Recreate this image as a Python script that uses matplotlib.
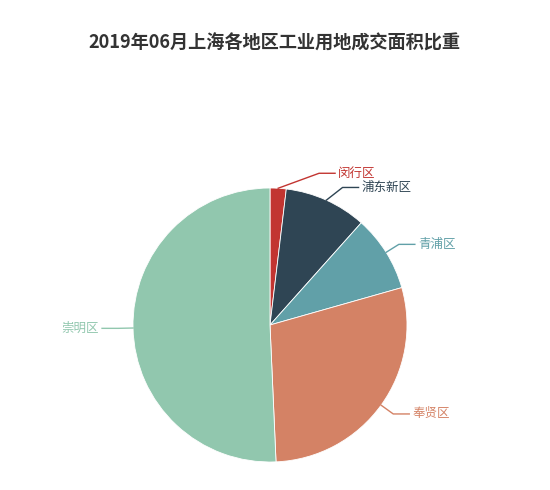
import numpy as np
import matplotlib.pyplot as plt

plt.rcParams['font.family'] = ['Noto Sans CJK SC', 'DejaVu Sans']

# data (share of area, %)
districts = ["闵行区", "浦东新区", "青浦区", "奉贤区", "崇明区"]
shares = [1.9, 9.7, 9.0, 28.7, 50.7]
colors = ["#c23531", "#2f4554", "#61a0a8", "#d48265", "#91c7ae"]
title = "2019年06月上海各地区工业用地成交面积比重"

W, H = 550, 490
fig = plt.figure(figsize=(W / 100, H / 100), dpi=100)
ax = fig.add_axes([0, 0, 1, 1])
ax.set_xlim(0, W)
ax.set_ylim(0, H)
ax.set_aspect('equal')
ax.axis('off')

cx, cy, r = 270, H - 325, 137
wedges, _ = ax.pie(shares, colors=colors, startangle=90, counterclock=False,
                   center=(cx, cy), radius=r, frame=True,
                   wedgeprops=dict(linewidth=0.6, edgecolor='white'))
ax.set_xlim(0, W)
ax.set_ylim(0, H)
ax.axis('off')

# extra elbow shifts so the two small top labels don't collide
shift = {"闵行区": (40, 0), "浦东新区": (10, -1)}

for w, name, c in zip(wedges, districts, colors):
    ang = np.deg2rad((w.theta1 + w.theta2) / 2)
    x0, y0 = cx + r * np.cos(ang), cy + r * np.sin(ang)
    x1, y1 = cx + (r + 15) * np.cos(ang), cy + (r + 15) * np.sin(ang)
    dx, dy = shift.get(name, (0, 0))
    x1 += dx
    y1 += dy
    side = 1 if np.cos(ang) >= 0 else -1
    x2 = x1 + side * 16
    ax.plot([x0, x1, x2], [y0, y1, y1], color=c, lw=1)
    ax.text(x2 + side * 3, y1, name, color=c, fontsize=9,
            ha='left' if side > 0 else 'right', va='center')

ax.text(W / 2 - 1, H - 43, title, ha='center', va='center', fontsize=13.1,
        fontweight='bold', color='#333333')

fig.savefig("out.png", dpi=100)
